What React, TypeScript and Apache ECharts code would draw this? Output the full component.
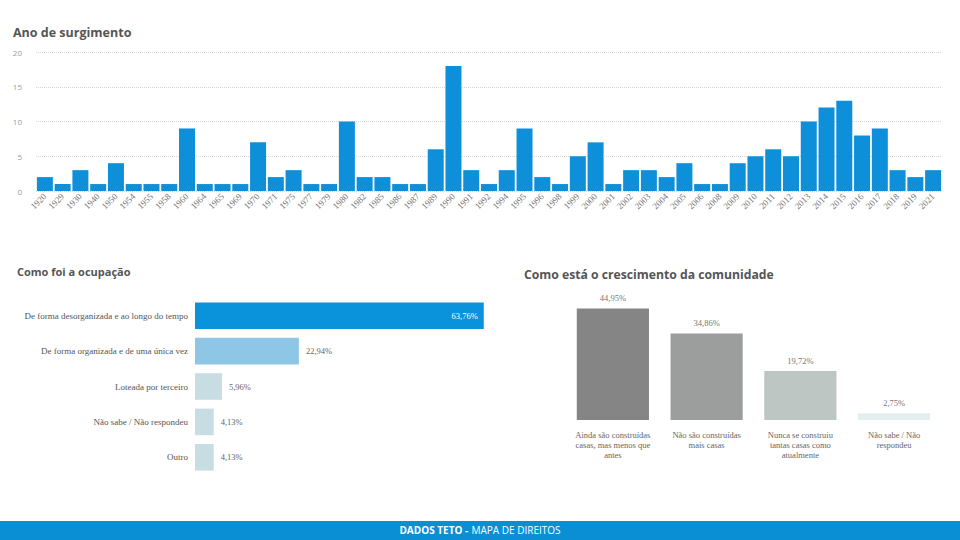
import React, { useEffect, useRef } from "react";
import * as echarts from "echarts";

const yearCategories = ["1920","1929","1930","1940","1950","1954","1955","1958","1960","1964","1965","1969","1970","1971","1975","1977","1979","1980","1982","1985","1986","1987","1989","1990","1991","1992","1994","1995","1996","1998","1999","2000","2001","2002","2003","2004","2005","2006","2008","2009","2010","2011","2012","2013","2014","2015","2016","2017","2018","2019","2021"];
const yearValues = [2,1,3,1,4,1,1,1,9,1,1,1,7,2,3,1,1,10,2,2,1,1,6,18,3,1,3,9,2,1,5,7,1,3,3,2,4,1,1,4,5,6,5,10,12,13,8,9,3,2,3];
const yearTicks = [0, 5, 10, 15, 20];

const occupationCategories = [
  "De forma desorganizada e ao longo do tempo",
  "De forma organizada e de uma única vez",
  "Loteada por terceiro",
  "Não sabe / Não respondeu",
  "Outro",
];
const occupationValues = [63.76, 22.94, 5.96, 4.13, 4.13];
const occupationColors = ["#0A92DB", "#8EC7E5", "#C7DDE3", "#C7DDE3", "#C7DDE3"];

const growthCategories = [
  "Ainda são construídas\ncasas, mas menos que\nantes",
  "Não são construídas\nmais casas",
  "Nunca se construiu\ntantas casas como\natualmente",
  "Não sabe / Não\nrespondeu",
];
const growthValues = [44.95, 34.86, 19.72, 2.75];
const growthColors = ["#858585", "#9C9E9E", "#BEC6C4", "#E3EFEF"];

const pct = (v: number) => v.toFixed(2).replace(".", ",") + "%";
const serif = "'Liberation Serif', 'DejaVu Serif', serif";
const sans = "'Open Sans', 'Noto Sans', sans-serif";

export default function App() {
  const ref = useRef<HTMLDivElement>(null);
  useEffect(() => {
    if (!ref.current) return;
    const chart = echarts.init(ref.current, null, { renderer: "svg" });
    chart.setOption({
      animation: false,
      backgroundColor: "#ffffff",
      title: [
        { text: "Ano de surgimento", left: 13, top: 26, padding: 0, textStyle: { fontFamily: sans, fontWeight: "bold", fontSize: 12.5, color: "#555555" } },
        { text: "Como foi a ocupação", left: 17, top: 266, padding: 0, textStyle: { fontFamily: sans, fontWeight: "bold", fontSize: 11, color: "#555555" } },
        { text: "Como está o crescimento da comunidade", left: 524, top: 268, padding: 0, textStyle: { fontFamily: sans, fontWeight: "bold", fontSize: 12.2, color: "#555555" } },
      ],
      grid: [
        { left: 36, right: 18, top: 52, bottom: 349 },
        { left: 195, width: 317, top: 298, height: 177 },
        { left: 566, width: 375, top: 296, bottom: 120 },
      ],
      xAxis: [
        {
          gridIndex: 0, type: "category", data: yearCategories,
          axisLine: { show: false }, axisTick: { show: false },
          axisLabel: { rotate: 45, interval: 0, fontFamily: serif, fontSize: 9, color: "#777777", margin: 4 },
        },
        { gridIndex: 1, type: "value", min: 0, max: 70, show: false },
        {
          gridIndex: 2, type: "category", data: growthCategories,
          axisLine: { show: false }, axisTick: { show: false },
          axisLabel: { interval: 0, fontFamily: serif, fontSize: 8.5, color: "#666666", margin: 10, lineHeight: 10 },
        },
      ],
      yAxis: [
        {
          gridIndex: 0, type: "value", min: yearTicks[0], max: yearTicks[yearTicks.length - 1], interval: 5,
          axisLine: { show: false }, axisTick: { show: false },
          axisLabel: { fontFamily: sans, fontSize: 8, color: "#9a9a9a", margin: 14 },
          splitLine: { lineStyle: { type: "dotted", color: "#d6d6d6", width: 1 } },
        },
        {
          gridIndex: 1, type: "category", data: occupationCategories, inverse: true,
          axisLine: { show: false }, axisTick: { show: false },
          axisLabel: { fontFamily: serif, fontSize: 9, color: "#555555", margin: 7 },
        },
        { gridIndex: 2, type: "value", min: 0, max: 50, show: false },
      ],
      series: [
        {
          type: "bar", xAxisIndex: 0, yAxisIndex: 0, data: yearValues,
          barCategoryGap: "10%", itemStyle: { color: "#0E8FDA" },
        },
        {
          type: "bar", xAxisIndex: 1, yAxisIndex: 1, barCategoryGap: "25%",
          data: occupationValues.map((v, i) => ({
            value: v,
            itemStyle: { color: occupationColors[i] },
            label: i === 0
              ? { show: true, position: "insideRight", color: "#ffffff", distance: 6 }
              : { show: true, position: "right", color: "#666666", distance: 7 },
          })),
          label: { fontFamily: serif, fontSize: 8.5, formatter: (p: any) => pct(p.value) },
        },
        {
          type: "bar", xAxisIndex: 2, yAxisIndex: 2, barCategoryGap: "23%",
          data: growthValues.map((v, i) => ({ value: v, itemStyle: { color: growthColors[i] } })),
          label: { show: true, position: "top", distance: 6, fontFamily: serif, fontSize: 8.5, color: "#777777", formatter: (p: any) => pct(p.value) },
        },
      ],
      graphic: [
        { type: "rect", left: 0, top: 521, shape: { width: 960, height: 19 }, style: { fill: "#0A8FD4" } },
        {
          type: "text", left: "center", top: 524,
          style: {
            text: "{b|DADOS TETO -} {r|MAPA DE DIREITOS}",
            rich: {
              b: { fontFamily: sans, fontWeight: "bold", fontSize: 10, fill: "#ffffff" },
              r: { fontFamily: sans, fontSize: 10, fill: "#ffffff" },
            },
          },
        },
      ],
    });
    return () => chart.dispose();
  }, []);
  return <div ref={ref} style={{ position: "fixed", left: 0, top: 0, width: 960, height: 540 }} />;
}
